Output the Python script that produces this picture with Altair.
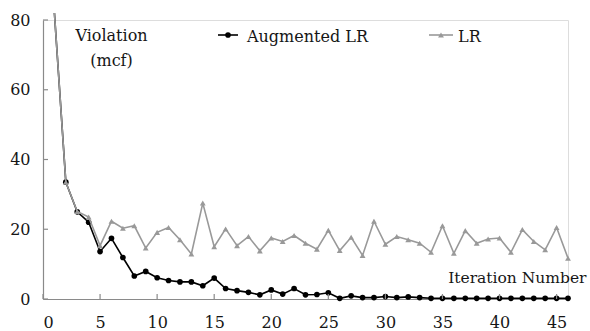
import altair as alt
import pandas as pd

iterations = list(range(1, 47))
augmented_lr = [82, 33.5, 25, 22, 13.6, 17.4, 11.9, 6.6, 7.9, 6.1,
                5.3, 4.9, 4.9, 3.8, 6.0, 3.0, 2.4, 1.9, 1.2, 2.6,
                1.4, 3.0, 1.2, 1.3, 1.8, 0.2, 0.9, 0.4, 0.4, 0.7,
                0.4, 0.6, 0.4, 0.2, 0.2, 0.2, 0.2, 0.2, 0.2, 0.2,
                0.2, 0.2, 0.2, 0.2, 0.2, 0.2]
lr = [82, 33.5, 25.1, 23.5, 15.3, 22.3, 20.3, 21, 14.6, 19.1,
      20.5, 17, 12.9, 27.5, 15, 20.1, 15.3, 17.9, 13.8, 17.5,
      16.5, 18.2, 16, 14.3, 19.7, 13.9, 17.7, 12.5, 22.3, 15.7,
      17.9, 17, 16, 13.4, 21, 13.1, 19.6, 16, 17.2, 17.5,
      13.4, 19.9, 16.5, 14.1, 20.5, 11.7]
x_ticks = [0, 5, 10, 15, 20, 25, 30, 35, 40, 45]
y_ticks = [0, 20, 40, 60, 80]
series_names = ["Augmented LR", "LR"]

FONT = "DejaVu Serif"
FS = 16
W, H = 525, 279
AXIS_C = "#8a8a8a"
TXT_C = "#161616"

df = pd.DataFrame({"iter": iterations, "aug": augmented_lr, "lr": lr})

xs = alt.Scale(domain=[0, 46], nice=False)
ys = alt.Scale(domain=[0, 80], nice=False)

x_axis = alt.Axis(values=x_ticks, ticks=False, tickSize=0, labelPadding=15,
                  labelFont=FONT, labelFontSize=FS, labelColor=TXT_C,
                  domainColor=AXIS_C, domainWidth=1.2, grid=False,
                  title="Iteration Number", titleFont=FONT, titleFontSize=15.5,
                  titleFontWeight="normal", titleColor=TXT_C,
                  titleX=543, titleY=-17, titleAlign="right",
                  titleBaseline="alphabetic", titleAnchor="end")
y_axis = alt.Axis(values=y_ticks, ticks=False, tickSize=0, labelPadding=13,
                  labelFont=FONT, labelFontSize=FS, labelColor=TXT_C,
                  domainColor=AXIS_C, domainWidth=1.2, grid=False,
                  title=["Violation", "(mcf)"], titleFont=FONT, titleFontSize=FS,
                  titleFontWeight="normal", titleColor=TXT_C, titleAngle=0,
                  titleX=68, titleY=20, titleAlign="center",
                  titleBaseline="alphabetic", titleLineHeight=25)

base = alt.Chart(df)

aug_line = base.mark_line(color="black", strokeWidth=1.6).encode(
    x=alt.X("iter:Q", scale=xs, axis=x_axis),
    y=alt.Y("aug:Q", scale=ys, axis=y_axis),
)
aug_pts = base.transform_filter("datum.iter >= 2").mark_point(
    shape="circle", filled=True, color="black", size=32, opacity=1).encode(
    x=alt.X("iter:Q", scale=xs), y=alt.Y("aug:Q", scale=ys))

lr_line = base.mark_line(color="#999999", strokeWidth=1.6).encode(
    x=alt.X("iter:Q", scale=xs), y=alt.Y("lr:Q", scale=ys))
lr_pts = base.transform_filter("datum.iter >= 2").mark_point(
    shape="triangle-up", filled=True, color="#999999", size=34, opacity=1).encode(
    x=alt.X("iter:Q", scale=xs), y=alt.Y("lr:Q", scale=ys))

# inward tick marks
xt = alt.Chart(pd.DataFrame({"t": x_ticks})).mark_rule(color=AXIS_C, strokeWidth=1.2).encode(
    x=alt.X("t:Q", scale=xs), y=alt.value(H - 5), y2=alt.value(H))
yt = alt.Chart(pd.DataFrame({"t": y_ticks})).mark_rule(color=AXIS_C, strokeWidth=1.2).encode(
    y=alt.Y("t:Q", scale=ys), x=alt.value(0), x2=alt.value(5))

# manual legend
one = pd.DataFrame({"name": [series_names[0]]})
two = pd.DataFrame({"name": [series_names[1]]})
leg_aug_line = alt.Chart(one).mark_rule(color="black", strokeWidth=1.6).encode(
    x=alt.value(175), x2=alt.value(195), y=alt.value(15))
leg_aug_pt = alt.Chart(one).mark_point(shape="circle", filled=True, color="black", size=32, opacity=1).encode(
    x=alt.value(185), y=alt.value(15))
leg_aug_txt = alt.Chart(one).mark_text(font=FONT, fontSize=FS, align="left", baseline="alphabetic", color=TXT_C).encode(
    x=alt.value(204), y=alt.value(22), text="name:N")
leg_lr_line = alt.Chart(two).mark_rule(color="#999999", strokeWidth=1.6).encode(
    x=alt.value(386), x2=alt.value(410), y=alt.value(15))
leg_lr_pt = alt.Chart(two).mark_point(shape="triangle-up", filled=True, color="#999999", size=34, opacity=1).encode(
    x=alt.value(398), y=alt.value(15))
leg_lr_txt = alt.Chart(two).mark_text(font=FONT, fontSize=FS, align="left", baseline="alphabetic", color=TXT_C).encode(
    x=alt.value(415), y=alt.value(22), text="name:N")

chart = alt.layer(
    aug_line, aug_pts, lr_line, lr_pts, xt, yt,
    leg_aug_line, leg_aug_pt, leg_aug_txt, leg_lr_line, leg_lr_pt, leg_lr_txt,
).properties(
    width=W, height=H,
    autosize=alt.AutoSizeParams(type="none"),
    padding={"left": 43, "top": 20, "right": 22, "bottom": 32},
).configure_view(stroke=None).configure(background="white")

chart.save("out.html", embed_options={"renderer": "svg", "actions": False})
